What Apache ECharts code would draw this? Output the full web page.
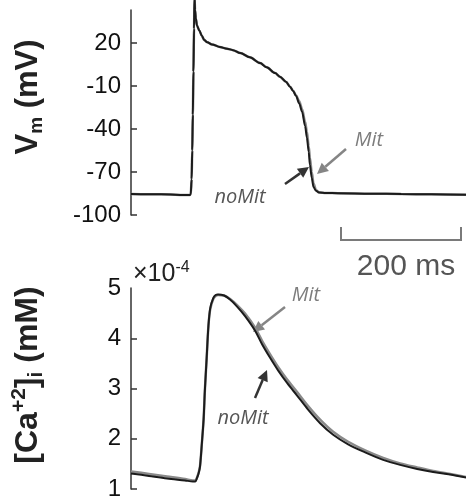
<!DOCTYPE html>
<html>
<head>
<meta charset="utf-8">
<script src="https://cdn.jsdelivr.net/npm/echarts@6/dist/echarts.min.js"></script>
<style>
html, body { margin: 0; padding: 0; background: #fff; }
#chart { width: 466px; height: 501px; }
</style>
</head>
<body>
<div id="chart"></div>
<script>
// membrane potential, time in ms
const vmTime = [0, 50, 98, 99.5, 101, 102, 103, 104, 105, 105.8, 106.7, 108, 110, 114, 118, 122, 127, 135, 148, 160, 170, 182, 198, 215, 226, 240, 248, 258, 265, 270, 275, 280, 285, 290, 293, 296, 298, 301, 304, 308, 313, 325, 345, 400, 450, 500, 558]
const vmNoMit = [-85.3, -85.6, -86, -85.5, -75, -55, -30, 0, 30, 52, 43, 37, 32, 28.5, 25, 22, 20.5, 19, 17.2, 16, 15, 13, 10, 6, 3, -1, -3.5, -7, -10.5, -13.5, -17, -22, -28, -38, -46, -56, -65, -74, -80.5, -83, -84.3, -84.6, -84.8, -85.1, -85.3, -85.6, -85.8]
const vmMit = [-85.3, -85.6, -86, -85.5, -75, -55, -30, 0, 30, 52, 43, 37, 32, 28.5, 25, 22, 20.5, 19, 17.2, 16, 15, 13, 10, 6, 3, -1, -3.5, -7, -10.5, -13.3, -16.5, -20.5, -26, -35, -42, -52, -60, -70, -78, -82.5, -84.2, -84.6, -84.8, -85.1, -85.3, -85.6, -85.8]

// cytosolic calcium, x 1e-4 mM
const caTime = [0, 30, 60, 90, 103, 107, 110, 113, 115, 118, 121, 123, 126, 129, 132, 137, 141, 145, 155, 165, 176.7, 190, 206.7, 218.3, 231.7, 245, 260, 276.7, 295, 315, 336.7, 361.7, 390, 420, 448.3, 476.7, 503.3, 531.7, 558]
const caNoMit = [1.31, 1.26, 1.21, 1.17, 1.15, 1.15, 1.22, 1.33, 1.45, 1.9, 2.4, 2.95, 3.6, 4.25, 4.6, 4.8, 4.86, 4.87, 4.85, 4.77, 4.63, 4.44, 4.15, 3.88, 3.61, 3.36, 3.11, 2.86, 2.58, 2.31, 2.08, 1.89, 1.73, 1.58, 1.48, 1.4, 1.34, 1.29, 1.23]
const caMit = [1.35, 1.3, 1.25, 1.2, 1.17, 1.17, 1.23, 1.34, 1.46, 1.9, 2.4, 2.95, 3.6, 4.25, 4.58, 4.78, 4.84, 4.86, 4.85, 4.78, 4.66, 4.49, 4.21, 3.95, 3.68, 3.43, 3.18, 2.93, 2.65, 2.38, 2.14, 1.94, 1.77, 1.62, 1.51, 1.43, 1.36, 1.3, 1.24]

const vmTicks = [-100, -70, -40, -10, 20]
const caLabels = [1, 2, 3, 4, 5]
const caTicks = [1, 2, 3, 4]

const font = 'Liberation Sans, Arial, sans-serif'
const black = '#1b1b1b'
const grey = '#8a8a8a'

function pairs(t, v) {
  return t.map((x, i) => [x, v[i]])
}

function arrow(x1, y1, x2, y2, color) {
  let dx = x2 - x1, dy = y2 - y1
  let len = Math.hypot(dx, dy)
  let ux = dx / len, uy = dy / len
  let hl = 11, hw = 5.5
  let bx = x2 - ux * hl, by = y2 - uy * hl
  return [
    { type: 'line', silent: true, shape: { x1: x1, y1: y1, x2: bx, y2: by }, style: { stroke: color, lineWidth: 2.5 } },
    { type: 'polygon', silent: true, shape: { points: [[x2, y2], [bx - uy * hw, by + ux * hw], [bx + uy * hw, by - ux * hw]] }, style: { fill: color } }
  ]
}

function label(text, x, y, color) {
  return { type: 'text', silent: true, x: x, y: y,
    style: { text: text, font: 'italic 20px "Open Sans", sans-serif', fill: color, align: 'center', verticalAlign: 'middle' } }
}

function richStyle(size, extra) {
  return Object.assign({ fontSize: size, fontWeight: 'bold', fontFamily: font, fill: '#222' }, extra)
}

function title(text, x, y, mainSize, smallSize) {
  return { type: 'text', silent: true, x: x, y: y, rotation: Math.PI / 2,
    style: {
      text: text, align: 'center', verticalAlign: 'middle',
      rich: {
        a: richStyle(mainSize, { lineHeight: mainSize + 6 }),
        p: richStyle(smallSize, { lineHeight: smallSize, verticalAlign: 'top' }),
        s: richStyle(smallSize, { lineHeight: smallSize, verticalAlign: 'bottom' })
      }
    } }
}

const yAxisBase = {
  type: 'value',
  splitLine: { show: false },
  axisLine: { show: true, onZero: false, lineStyle: { color: '#333', width: 1.5 } },
  axisLabel: { fontSize: 24, color: '#111', fontFamily: font, margin: 10 }
}

const options = {
  animation: false,
  backgroundColor: '#fff',
  grid: [
    { left: 131, top: 10, width: 335, height: 205 },
    { left: 131, top: 288, width: 335, height: 207 }
  ],
  xAxis: [
    { gridIndex: 0, type: 'value', min: 0, max: 558, show: false },
    { gridIndex: 1, type: 'value', min: 0, max: 558, show: false }
  ],
  yAxis: [
    Object.assign({}, yAxisBase, {
      gridIndex: 0, min: -100, max: 43, interval: 30,
      axisLabel: Object.assign({}, yAxisBase.axisLabel, { customValues: vmTicks }),
      axisTick: { inside: true, length: 6, lineStyle: { color: '#333', width: 1.5 }, customValues: vmTicks }
    }),
    Object.assign({}, yAxisBase, {
      gridIndex: 1, min: 1, max: 5, interval: 1,
      axisLabel: Object.assign({}, yAxisBase.axisLabel, { customValues: caLabels }),
      axisTick: { inside: true, length: 6, lineStyle: { color: '#333', width: 1.5 }, customValues: caTicks }
    })
  ],
  series: [
    { name: 'Mit', type: 'line', xAxisIndex: 0, yAxisIndex: 0, data: pairs(vmTime, vmMit),
      showSymbol: false, clip: false, smooth: 0.3, smoothMonotone: 'x', lineStyle: { color: grey, width: 2.5 } },
    { name: 'noMit', type: 'line', xAxisIndex: 0, yAxisIndex: 0, data: pairs(vmTime, vmNoMit),
      showSymbol: false, clip: false, smooth: 0.3, smoothMonotone: 'x', lineStyle: { color: black, width: 2 } },
    { name: 'Mit', type: 'line', xAxisIndex: 1, yAxisIndex: 1, data: pairs(caTime, caMit),
      showSymbol: false, smooth: 0.3, lineStyle: { color: grey, width: 2.5 } },
    { name: 'noMit', type: 'line', xAxisIndex: 1, yAxisIndex: 1, data: pairs(caTime, caNoMit),
      showSymbol: false, smooth: 0.3, lineStyle: { color: black, width: 2 } }
  ],
  graphic: [].concat(
    [title('{a|V}{s|m}{a| (mV)}', 28, 97, 31, 19),
     title('{a|[Ca}{p|+2}{a|]}{s|i}{a| (mM)}', 28, 375, 32, 21),
     // 200 ms scale bar
     { type: 'polyline', silent: true, shape: { points: [[341, 227], [341, 240], [461, 240], [461, 227]] },
       style: { stroke: '#7a7a7a', lineWidth: 2, fill: null } },
     { type: 'text', silent: true, x: 406, y: 267,
       style: { text: '200 ms', font: '30px ' + font, fill: '#555', align: 'center', verticalAlign: 'middle' } },
     { type: 'text', silent: true, x: 133, y: 274,
       style: { text: '{a|×10}{b|-4}', align: 'left', verticalAlign: 'middle',
         rich: { a: { fontSize: 25, fontFamily: font, fill: '#222', lineHeight: 28 },
                 b: { fontSize: 16, fontFamily: font, fill: '#222', lineHeight: 16, verticalAlign: 'top' } } } }],
    label('Mit', 369, 140, '#7d7d7d'),
    arrow(346, 149, 317, 174, '#858585'),
    label('noMit', 240, 197, '#555'),
    arrow(285, 184, 309, 167, '#333'),
    label('Mit', 306, 295, '#7d7d7d'),
    arrow(285, 307, 253, 332, '#858585'),
    label('noMit', 243, 418, '#555'),
    arrow(255, 398, 267, 370, '#333')
  )
}

let myChart = echarts.init(document.getElementById('chart'))
myChart.setOption(options, true)
</script>
</body>
</html>
